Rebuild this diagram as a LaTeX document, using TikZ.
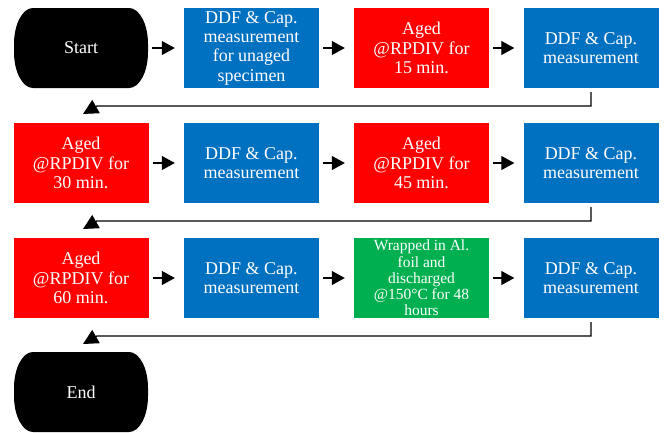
\documentclass[tikz,border=0pt]{standalone}
\usepackage{fontspec}
\setmainfont{Liberation Serif}
\usetikzlibrary{arrows.meta}
\usepackage{xcolor}
\definecolor{measblue}{RGB}{0,112,192}
\definecolor{agedred}{RGB}{255,0,0}
\definecolor{foilgreen}{RGB}{0,176,80}

\begin{document}
\begin{tikzpicture}[x=1pt, y=-1pt,
        block/.style={rectangle, fill=measblue, text=white, minimum width=135pt, minimum height=80pt, inner sep=0pt, align=center, font=\fontsize{18}{19.3}\selectfont},
        term/.style={rectangle, text=white, minimum width=134pt, minimum height=80pt, inner sep=0pt, font=\fontsize{18}{19}\selectfont,
            path picture={
                \fill[black] ([xshift=19pt]path picture bounding box.north west) -- ([xshift=-19pt]path picture bounding box.north east)
                    arc[start angle=90, end angle=0, x radius=19pt, y radius=36pt] -- ([yshift=36pt]path picture bounding box.south east)
                    arc[start angle=0, end angle=-90, x radius=19pt, y radius=36pt] -- ([xshift=19pt]path picture bounding box.south west)
                    arc[start angle=270, end angle=180, x radius=19pt, y radius=36pt] -- ([yshift=-36pt]path picture bounding box.north west)
                    arc[start angle=180, end angle=90, x radius=19pt, y radius=36pt] -- cycle;
            }},
        arrow/.style={-{Triangle[length=13pt, width=14pt]}, line width=1.2pt, shorten <=4pt, shorten >=9pt},
        back/.style={-{Triangle[length=15pt, width=15pt]}, line width=1.2pt, shorten <=4pt}
    ]
        \useasboundingbox (0,0) rectangle (665,432);
        % Blocks
        \node[term] (start) at (81, 48) {Start};
        \node[block] (m0) at (251.5, 48) {DDF \& Cap.\\measurement\\for unaged\\specimen};
        \node[block, fill=agedred] (a15) at (421.5, 48) {Aged\\@RPDIV for\\15 min.};
        \node[block] (m1) at (591, 48) {DDF \& Cap.\\measurement};

        \node[block, fill=agedred] (a30) at (81, 163) {Aged\\@RPDIV for\\30 min.};
        \node[block] (m2) at (251.5, 163) {DDF \& Cap.\\measurement};
        \node[block, fill=agedred] (a45) at (421.5, 163) {Aged\\@RPDIV for\\45 min.};
        \node[block] (m3) at (591, 163) {DDF \& Cap.\\measurement};

        \node[block, fill=agedred] (a60) at (81, 278) {Aged\\@RPDIV for\\60 min.};
        \node[block] (m4) at (251.5, 278) {DDF \& Cap.\\measurement};
        \node[block, fill=foilgreen, font=\fontsize{15.5}{16.3}\selectfont] (foil) at (421.5, 278) {Wrapped in Al.\\foil and\\discharged\\@150°C for 48\\hours};
        \node[block] (m5) at (591, 278) {DDF \& Cap.\\measurement};

        \node[term] (end) at (81, 392) {End};

        % Return points
        \coordinate (k1) at (97, 106);
        \coordinate (r1) at (83, 114);
        \coordinate (k2) at (97, 221);
        \coordinate (r2) at (83, 229);
        \coordinate (k3) at (97, 336);
        \coordinate (r3) at (83, 344);

        % Arrows
        \draw[arrow] (start) -- (m0);
        \draw[arrow] (m0) -- (a15);
        \draw[arrow] (a15) -- (m1);
        \draw[back] (m1.south) |- (k1) -- (r1);
        \draw[arrow] (a30) -- (m2);
        \draw[arrow] (m2) -- (a45);
        \draw[arrow] (a45) -- (m3);
        \draw[back] (m3.south) |- (k2) -- (r2);
        \draw[arrow] (a60) -- (m4);
        \draw[arrow] (m4) -- (foil);
        \draw[arrow] (foil) -- (m5);
        \draw[back] (m5.south) |- (k3) -- (r3);
    \end{tikzpicture}
\end{document}
